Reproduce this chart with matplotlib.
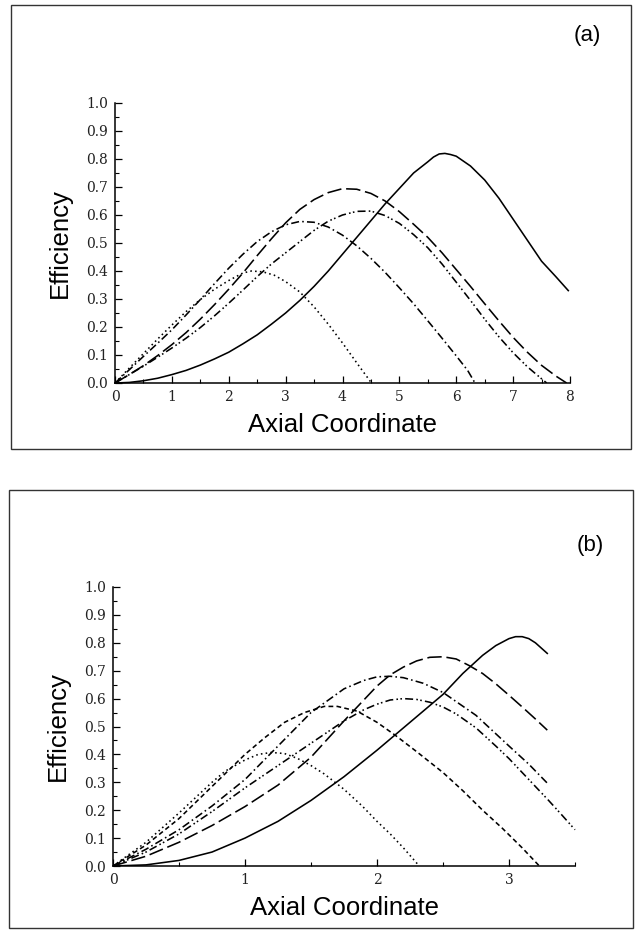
import matplotlib
matplotlib.use("Agg")
import matplotlib.pyplot as plt
from matplotlib.patches import Rectangle
from matplotlib.ticker import MultipleLocator

# ---- panel (a) data ----
a_solid_x = [0, 0.25, 0.5, 0.75, 1, 1.25, 1.5, 1.75, 2, 2.25, 2.5, 2.75, 3, 3.25, 3.5,
             3.75, 4, 4.25, 4.5, 4.75, 5.0, 5.25, 5.5, 5.6, 5.7, 5.8, 5.9, 6.0, 6.25,
             6.5, 6.75, 7.0, 7.25, 7.5, 7.75, 7.97]
a_solid_y = [0, 0.002, 0.008, 0.017, 0.03, 0.045, 0.064, 0.086, 0.11, 0.14, 0.172, 0.21,
             0.25, 0.295, 0.345, 0.40, 0.46, 0.52, 0.58, 0.64, 0.695, 0.75, 0.79, 0.807,
             0.818, 0.82, 0.816, 0.81, 0.775, 0.725, 0.66, 0.585, 0.51, 0.435, 0.38, 0.33]

a_long_x = [0, 0.25, 0.5, 0.75, 1, 1.25, 1.5, 1.75, 2, 2.25, 2.5, 2.75, 3.0, 3.25, 3.5,
            3.75, 4.0, 4.25, 4.5, 4.75, 5.0, 5.25, 5.5, 5.75, 6.0, 6.25, 6.5, 6.75,
            7.0, 7.25, 7.5, 7.75, 7.94]
a_long_y = [0, 0.03, 0.062, 0.098, 0.137, 0.18, 0.228, 0.28, 0.335, 0.393, 0.455, 0.515,
            0.572, 0.62, 0.655, 0.68, 0.694, 0.692, 0.677, 0.65, 0.612, 0.567, 0.52,
            0.465, 0.405, 0.345, 0.283, 0.222, 0.163, 0.11, 0.063, 0.025, 0]

a_dd_x = [0, 0.25, 0.5, 0.75, 1, 1.25, 1.5, 1.75, 2, 2.25, 2.5, 2.75, 3.0, 3.25, 3.5,
          3.75, 4.0, 4.25, 4.5, 4.75, 5.0, 5.25, 5.5, 5.75, 6.0, 6.25, 6.5, 6.75, 7.0,
          7.25, 7.5, 7.59]
a_dd_y = [0, 0.03, 0.06, 0.092, 0.125, 0.16, 0.198, 0.24, 0.285, 0.332, 0.38, 0.425,
          0.465, 0.505, 0.545, 0.578, 0.6, 0.613, 0.614, 0.598, 0.57, 0.53, 0.483,
          0.425, 0.36, 0.295, 0.228, 0.165, 0.108, 0.058, 0.015, 0]

a_dashdot_x = [0, 0.25, 0.5, 0.75, 1, 1.25, 1.5, 1.75, 2, 2.25, 2.5, 2.75, 3.0, 3.25,
               3.5, 3.75, 4.0, 4.25, 4.5, 4.75, 5.0, 5.25, 5.5, 5.75, 6.0, 6.2, 6.33]
a_dashdot_y = [0, 0.047, 0.095, 0.142, 0.19, 0.243, 0.298, 0.355, 0.41, 0.46, 0.505,
               0.54, 0.565, 0.577, 0.574, 0.557, 0.528, 0.49, 0.445, 0.395, 0.34, 0.283,
               0.222, 0.16, 0.097, 0.045, 0]

a_dot_x = [0, 0.25, 0.5, 0.75, 1, 1.25, 1.5, 1.75, 2, 2.25, 2.4, 2.6, 2.8, 3.0, 3.25,
           3.5, 3.75, 4.0, 4.25, 4.51]
a_dot_y = [0, 0.053, 0.105, 0.157, 0.207, 0.255, 0.298, 0.335, 0.366, 0.393, 0.40,
           0.397, 0.385, 0.362, 0.325, 0.272, 0.21, 0.143, 0.072, 0]

# ---- panel (b) data ----
b_solid_x = [0, 0.25, 0.5, 0.75, 1.0, 1.25, 1.5, 1.75, 2.0, 2.25, 2.5, 2.65, 2.8, 2.9,
             3.0, 3.05, 3.1, 3.15, 3.2, 3.29]
b_solid_y = [0, 0.004, 0.02, 0.05, 0.10, 0.16, 0.235, 0.32, 0.415, 0.515, 0.615, 0.69,
             0.755, 0.79, 0.815, 0.822, 0.822, 0.815, 0.80, 0.762]

b_long_x = [0, 0.25, 0.5, 0.75, 1.0, 1.25, 1.5, 1.75, 2.0, 2.1, 2.2, 2.3, 2.4, 2.5, 2.6,
            2.7, 2.8, 2.9, 3.0, 3.1, 3.2, 3.29]
b_long_y = [0, 0.035, 0.085, 0.145, 0.213, 0.29, 0.39, 0.52, 0.645, 0.685, 0.713, 0.735,
            0.748, 0.75, 0.742, 0.718, 0.69, 0.653, 0.612, 0.57, 0.527, 0.487]

b_dashdot_x = [0, 0.25, 0.5, 0.75, 1.0, 1.25, 1.5, 1.75, 1.9, 2.0, 2.1, 2.2, 2.35, 2.5,
               2.75, 3.0, 3.15, 3.29]
b_dashdot_y = [0, 0.06, 0.13, 0.215, 0.31, 0.43, 0.55, 0.635, 0.665, 0.678, 0.68, 0.675,
               0.655, 0.622, 0.54, 0.43, 0.365, 0.297]

b_dd_x = [0, 0.25, 0.5, 0.75, 1.0, 1.25, 1.5, 1.75, 1.9, 2.0, 2.1, 2.2, 2.3, 2.4, 2.5,
          2.6, 2.75, 2.9, 3.0, 3.1, 3.2, 3.3, 3.4, 3.5]
b_dd_y = [0, 0.05, 0.115, 0.195, 0.28, 0.36, 0.44, 0.52, 0.56, 0.58, 0.595, 0.60, 0.597,
          0.587, 0.57, 0.545, 0.495, 0.43, 0.385, 0.335, 0.285, 0.235, 0.183, 0.13]

b_short_x = [0, 0.25, 0.5, 0.75, 1.0, 1.15, 1.3, 1.45, 1.6, 1.7, 1.85, 2.0, 2.14, 2.3,
             2.5, 2.65, 2.8, 2.95, 3.1, 3.23]
b_short_y = [0, 0.075, 0.17, 0.285, 0.40, 0.46, 0.515, 0.55, 0.572, 0.572, 0.555, 0.515,
             0.468, 0.41, 0.335, 0.27, 0.20, 0.135, 0.065, 0]

b_dot_x = [0, 0.25, 0.5, 0.75, 0.85, 1.0, 1.1, 1.2, 1.3, 1.4, 1.5, 1.6, 1.75, 1.89,
           2.0, 2.1, 2.2, 2.32]
b_dot_y = [0, 0.085, 0.19, 0.30, 0.34, 0.38, 0.40, 0.407, 0.403, 0.385, 0.36, 0.33,
           0.275, 0.214, 0.16, 0.115, 0.065, 0]

yticks = [0.0, 0.1, 0.2, 0.3, 0.4, 0.5, 0.6, 0.7, 0.8, 0.9, 1.0]

LONG = (0, (9, 3))
DASHDOT = (0, (5, 2, 1, 2))
DASHDOTDOT = (0, (5, 2, 1, 1.5, 1, 2))
SHORT = (0, (3, 2))
DOT = (0, (1, 2))

W, H = 637, 932
fig = plt.figure(figsize=(W / 100, H / 100), dpi=100)


def frame(x0, y0, x1, y1):
    # outer box in pixel coords (top-left origin)
    fig.patches.append(Rectangle((x0 / W, 1 - y1 / H), (x1 - x0) / W, (y1 - y0) / H,
                                 transform=fig.transFigure, fill=False,
                                 edgecolor="#333333", linewidth=1.0))


def make_axes(l, t, r, b, xmax, xminor, ylab_x):
    ax = fig.add_axes([l / W, 1 - b / H, (r - l) / W, (b - t) / H])
    ax.set_xlim(0, xmax)
    ax.set_ylim(0, 1.0)
    ax.set_yticks(yticks)
    ax.set_yticklabels([f"{v:.1f}" for v in yticks])
    ax.xaxis.set_major_locator(MultipleLocator(1))
    ax.xaxis.set_minor_locator(MultipleLocator(xminor))
    ax.yaxis.set_minor_locator(MultipleLocator(0.05))
    for s in ["top", "right"]:
        ax.spines[s].set_visible(False)
    for s in ["left", "bottom"]:
        ax.spines[s].set_linewidth(1.1)
    ax.tick_params(which="major", direction="in", length=5, width=0.9, pad=5)
    ax.tick_params(which="minor", direction="in", length=3, width=0.8)
    for lab in ax.get_xticklabels() + ax.get_yticklabels():
        lab.set_family("DejaVu Serif")
        lab.set_fontsize(10)
        lab.set_color("#222222")
    ax.set_xlabel("Axial Coordinate", family="Liberation Sans", fontsize=18.5,
                  va="center")
    ax.set_ylabel("Efficiency", family="Liberation Sans", fontsize=18.5, va="center")
    # label centres in pixels below / left of the axes
    ax.xaxis.set_label_coords(0.5, -42 / (b - t))
    ax.yaxis.set_label_coords((ylab_x - l) / (r - l), 0.5)
    ax.patch.set_alpha(0)
    return ax


frame(11, 5, 631, 449)
frame(9, 490, 633, 928)

lw = 1.15
axa = make_axes(115, 103, 570, 383, 8, 0.5, 60)
axa.plot(a_solid_x, a_solid_y, color="black", lw=lw, clip_on=False)
axa.plot(a_long_x, a_long_y, color="black", lw=lw, linestyle=LONG)
axa.plot(a_dd_x, a_dd_y, color="black", lw=lw, linestyle=DASHDOTDOT)
axa.plot(a_dashdot_x, a_dashdot_y, color="black", lw=lw, linestyle=DASHDOT)
axa.plot(a_dot_x, a_dot_y, color="black", lw=lw, linestyle=DOT)
fig.text(587 / W, 1 - 36 / H, "(a)", family="Liberation Sans", fontsize=16,
         ha="center", va="center")

axb = make_axes(113, 587, 575, 866, 3.5, 0.5, 58)
axb.plot(b_solid_x, b_solid_y, color="black", lw=lw)
axb.plot(b_long_x, b_long_y, color="black", lw=lw, linestyle=LONG)
axb.plot(b_dashdot_x, b_dashdot_y, color="black", lw=lw, linestyle=DASHDOT)
axb.plot(b_dd_x, b_dd_y, color="black", lw=lw, linestyle=DASHDOTDOT, clip_on=False)
axb.plot(b_short_x, b_short_y, color="black", lw=lw, linestyle=SHORT)
axb.plot(b_dot_x, b_dot_y, color="black", lw=lw, linestyle=DOT)
fig.text(590 / W, 1 - 546 / H, "(b)", family="Liberation Sans", fontsize=16,
         ha="center", va="center")

fig.savefig("out.png", dpi=100)
